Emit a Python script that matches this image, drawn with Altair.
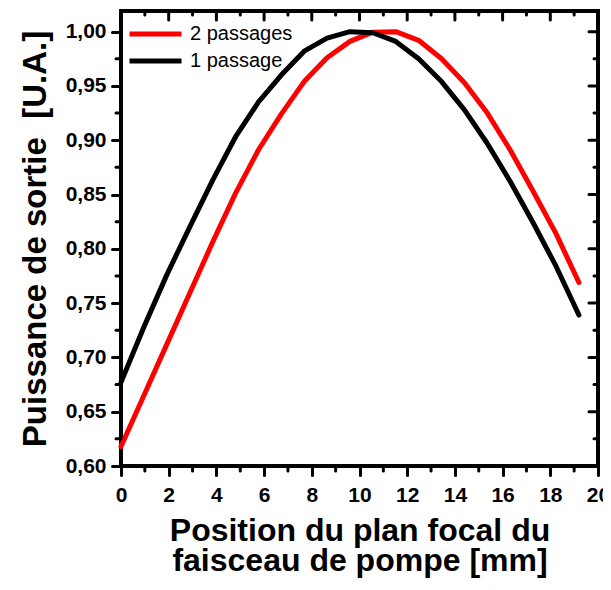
import altair as alt
import pandas as pd

# ---- data ----
X_POS = [0.0, 0.96, 1.92, 2.88, 3.84, 4.80, 5.76, 6.72, 7.68, 8.64, 9.60,
         10.56, 11.52, 12.48, 13.44, 14.40, 15.36, 16.32, 17.28, 18.24, 19.20]
RED_2_PASSAGES = [0.618, 0.665, 0.712, 0.759, 0.806, 0.851, 0.891, 0.924, 0.954, 0.976, 0.991,
                  0.9995, 1.000, 0.992, 0.975, 0.953, 0.925, 0.891, 0.853, 0.814, 0.769]
BLACK_1_PASSAGE = [0.677, 0.728, 0.776, 0.820, 0.863, 0.903, 0.935, 0.960, 0.982, 0.994, 1.000,
                   0.999, 0.991, 0.975, 0.954, 0.928, 0.897, 0.862, 0.824, 0.784, 0.739]
SERIES = ["\u00a02 passages", "1 passage"]
COLORS = ["#ff0000", "#000000"]

# tick positions (axis values)
X_MAJOR = [0, 2, 4, 6, 8, 10, 12, 14, 16, 18, 20]
X_MINOR = [1, 3, 5, 7, 9, 11, 13, 15, 17, 19]
Y_MAJOR = [0.60, 0.65, 0.70, 0.75, 0.80, 0.85, 0.90, 0.95, 1.00]
Y_MINOR = [0.625, 0.675, 0.725, 0.775, 0.825, 0.875, 0.925, 0.975]

X_TITLE = ["Position du plan focal du", "faisceau de pompe [mm]"]
Y_TITLE = "Puissance de sortie \u00a0[U.A.]"

rows = []
for name, vals in zip(SERIES, [RED_2_PASSAGES, BLACK_1_PASSAGE]):
    for xv, yv in zip(X_POS, vals):
        rows.append({"x": xv, "y": yv, "series": name})
df = pd.DataFrame(rows)

FONT = "Liberation Sans"
W, H = 477, 455
x_scale = alt.Scale(domain=[0, 20], nice=False, zero=False)
y_scale = alt.Scale(domain=[0.60, 1.019], nice=False, zero=False)

x_main = alt.Axis(orient="bottom", tickCount=10, tickSize=9, domain=False, grid=False,
                  tickColor="black", tickWidth=3, tickCap="round",
                  labelFont=FONT, labelFontSize=21, labelFontWeight="bold",
                  labelColor="black", labelPadding=9, labelFlush=False,
                  labelOverlap=False,
                  title=X_TITLE, titleFont=FONT, titleFontSize=32,
                  titleFontWeight="bold", titleColor="black",
                  titleLineHeight=30, titleBaseline="alphabetic",
                  titleAlign="center", titleX=238.5, titleY=74)
y_main = alt.Axis(orient="left", tickCount=8, tickSize=9, domain=False, grid=False,
                  tickColor="black", tickWidth=3, tickCap="round",
                  labelExpr="replace(format(datum.value, '.2f'), '.', ',')",
                  labelFont=FONT, labelFontSize=21, labelFontWeight="bold",
                  labelColor="black", labelPadding=6, labelFlush=False,
                  labelOverlap=False,
                  title=Y_TITLE, titleFont=FONT, titleFontSize=33,
                  titleFontWeight="bold", titleColor="black",
                  titleAngle=270, titleBaseline="alphabetic", titleAlign="center",
                  titleX=-76, titleY=227.5)

lines = alt.Chart(df).mark_line(strokeWidth=5, strokeCap="round", strokeJoin="round").encode(
    x=alt.X("x:Q", scale=x_scale, axis=x_main),
    y=alt.Y("y:Q", scale=y_scale, axis=y_main),
    color=alt.Color("series:N",
                    scale=alt.Scale(domain=SERIES, range=COLORS),
                    legend=alt.Legend(orient="none", legendX=6, legendY=9.5,
                                      title=None, symbolType="stroke",
                                      symbolStrokeWidth=5, symbolSize=2704,
                                      clipHeight=27, rowPadding=0, padding=0,
                                      labelOffset=6, labelFont=FONT,
                                      labelFontSize=20, labelColor="black",
                                      labelLimit=300)),
    order=alt.Order("x:Q"),
)


def x_ticks(values, y0, y1):
    return alt.Chart(pd.DataFrame({"v": values})).mark_rule(
        color="black", strokeWidth=3, strokeCap="round").encode(
        x=alt.X("v:Q", scale=x_scale, axis=None),
        y=alt.value(y0), y2=alt.value(y1),
    )


def y_ticks(values, x0, x1):
    return alt.Chart(pd.DataFrame({"v": values})).mark_rule(
        color="black", strokeWidth=3, strokeCap="round").encode(
        y=alt.Y("v:Q", scale=y_scale, axis=None),
        x=alt.value(x0), x2=alt.value(x1),
    )


ticks = [
    x_ticks(X_MINOR, H, H + 5),      # bottom minor, outward
    x_ticks(X_MAJOR, 0, 9),          # top major, inward
    x_ticks(X_MINOR, 0, 4),          # top minor, inward
    y_ticks(Y_MINOR, -5, 0),         # left minor, outward
    y_ticks(Y_MAJOR, W - 9, W),      # right major, inward
    y_ticks(Y_MINOR, W - 4, W),      # right minor, inward
]

chart = (
    alt.layer(lines, *ticks)
    .resolve_axis(x="independent", y="independent")
    .properties(
        width=W, height=H,
        autosize=alt.AutoSizeParams(type="none"),
        padding={"left": 113, "top": 3, "right": 5, "bottom": 116},
        background="white",
    )
    .configure_view(stroke="black", strokeWidth=4)
)

chart.save("out.html", embed_options={"renderer": "svg", "actions": False})
